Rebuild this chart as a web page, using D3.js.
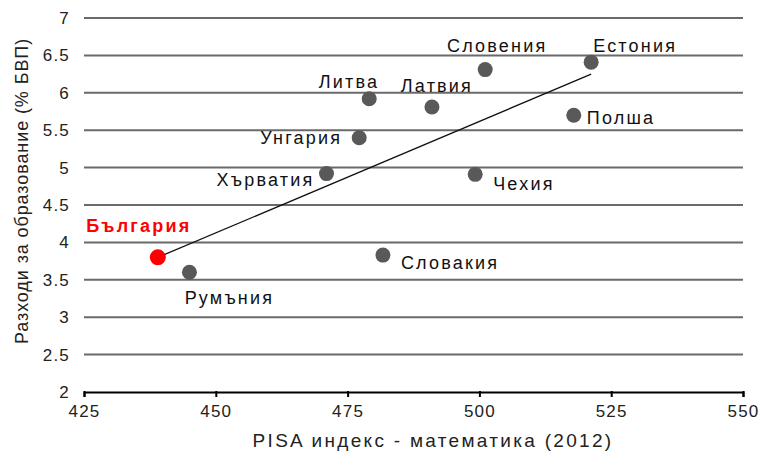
<!DOCTYPE html>
<html>
<head>
<meta charset="utf-8">
<script src="https://cdn.jsdelivr.net/npm/d3@7"></script>
<style>
  body { margin: 0; background: #fff; }
  text { font-family: "Liberation Sans", Arial, sans-serif; }
</style>
</head>
<body>
<div id="chart"></div>
<script>
// data
let countries = ["България", "Румъния", "Словакия", "Хърватия", "Унгария", "Литва", "Латвия", "Словения", "Чехия", "Естония", "Полша"];
let pisaMath = [439, 445, 481.7, 471, 477.2, 479.1, 491, 501.1, 499.2, 521.2, 517.9];
let eduSpend = [3.8, 3.6, 3.83, 4.92, 5.4, 5.92, 5.81, 6.31, 4.91, 6.41, 5.7];
let trendX = [439, 521.2];
let trendY = [3.8, 6.25];
let xTicks = [425, 450, 475, 500, 525, 550];
let yTicks = [2, 2.5, 3, 3.5, 4, 4.5, 5, 5.5, 6, 6.5, 7];

// label placement around each dot (pixels)
let labelPos = {
    "България": {dx: -19, dy: -32, anchor: "middle"},
    "Румъния":  {dx: 40,  dy: 25,  anchor: "middle"},
    "Словакия": {dx: 18,  dy: 8,   anchor: "start"},
    "Хърватия": {dx: -12, dy: 6,   anchor: "end"},
    "Унгария":  {dx: -17, dy: 0,   anchor: "end"},
    "Литва":    {dx: 10,  dy: -17, anchor: "end"},
    "Латвия":   {dx: 5,   dy: -21, anchor: "middle"},
    "Словения": {dx: 12,  dy: -24, anchor: "middle"},
    "Чехия":    {dx: 18,  dy: 9,   anchor: "start"},
    "Естония":  {dx: 2,   dy: -16, anchor: "start"},
    "Полша":    {dx: 13,  dy: 2,   anchor: "start"}
};

let W = 771, H = 455;
let m = {top: 18, right: 28, bottom: 63, left: 84};

let svg = d3.select("#chart")
    .append("svg")
    .attr("width", W)
    .attr("height", H);

let x = d3.scaleLinear().domain([425, 550]).range([m.left, W - m.right]);
let y = d3.scaleLinear().domain([2, 7]).range([H - m.bottom, m.top]);

// horizontal grid
svg.append("g")
    .selectAll("line")
    .data(yTicks.filter((d) => d > 2))
    .enter()
    .append("line")
    .attr("x1", x(425))
    .attr("x2", x(550))
    .attr("y1", (d) => y(d))
    .attr("y2", (d) => y(d))
    .style("stroke", "#6a6a6a")
    .style("stroke-width", 2);

// x axis
let xAxis = svg.append("g")
    .attr("transform", "translate(0," + y(2) + ")")
    .call(d3.axisBottom(x).tickValues(xTicks).tickSize(5).tickPadding(8).tickFormat(d3.format("d")));
xAxis.select(".domain").attr("stroke", "#000").attr("stroke-width", 2);
xAxis.selectAll(".tick line").attr("stroke", "#000").attr("stroke-width", 2).attr("y1", -1);
xAxis.selectAll(".tick text")
    .attr("fill", "#222")
    .style("font-size", "17px")
    .style("letter-spacing", "1.2px");

// y axis labels
let yAxis = svg.append("g")
    .attr("transform", "translate(" + x(425) + ",0)")
    .call(d3.axisLeft(y).tickValues(yTicks).tickSize(0).tickPadding(14).tickFormat((d) => d3.format("")(d)));
yAxis.select(".domain").remove();
yAxis.selectAll(".tick text")
    .attr("fill", "#222")
    .style("font-size", "17px")
    .style("letter-spacing", "1.2px");

// trend line
svg.append("line")
    .attr("x1", x(trendX[0]))
    .attr("y1", y(trendY[0]))
    .attr("x2", x(trendX[1]))
    .attr("y2", y(trendY[1]))
    .style("stroke", "#111")
    .style("stroke-width", 1.3);

// dots
svg.append("g")
    .selectAll("circle")
    .data(countries)
    .enter()
    .append("circle")
    .attr("cx", (d, i) => x(pisaMath[i]))
    .attr("cy", (d, i) => y(eduSpend[i]))
    .attr("r", (d) => d == "България" ? 8 : 7.5)
    .style("fill", (d) => d == "България" ? "#ff0000" : "#595959");

// country labels
svg.append("g")
    .selectAll("text")
    .data(countries)
    .enter()
    .append("text")
    .attr("x", (d, i) => x(pisaMath[i]) + labelPos[d].dx)
    .attr("y", (d, i) => y(eduSpend[i]) + labelPos[d].dy)
    .attr("dy", "0.35em")
    .attr("text-anchor", (d) => labelPos[d].anchor)
    .style("font-size", "18px")
    .style("letter-spacing", "2.2px")
    .style("font-weight", (d) => d == "България" ? "bold" : "normal")
    .style("fill", (d) => d == "България" ? "#ff0000" : "#111")
    .text((d) => d);

// axis titles
svg.append("text")
    .attr("x", 433)
    .attr("y", 440)
    .attr("dy", "0.35em")
    .attr("text-anchor", "middle")
    .style("font-size", "19px")
    .style("letter-spacing", "2.3px")
    .style("fill", "#222")
    .text("PISA индекс - математика (2012)");

svg.append("text")
    .attr("transform", "translate(22,191) rotate(-90)")
    .attr("dy", "0.35em")
    .attr("text-anchor", "middle")
    .style("font-size", "18px")
    .style("letter-spacing", "0.9px")
    .style("fill", "#222")
    .text("Разходи за образование (% БВП)");
</script>
</body>
</html>
